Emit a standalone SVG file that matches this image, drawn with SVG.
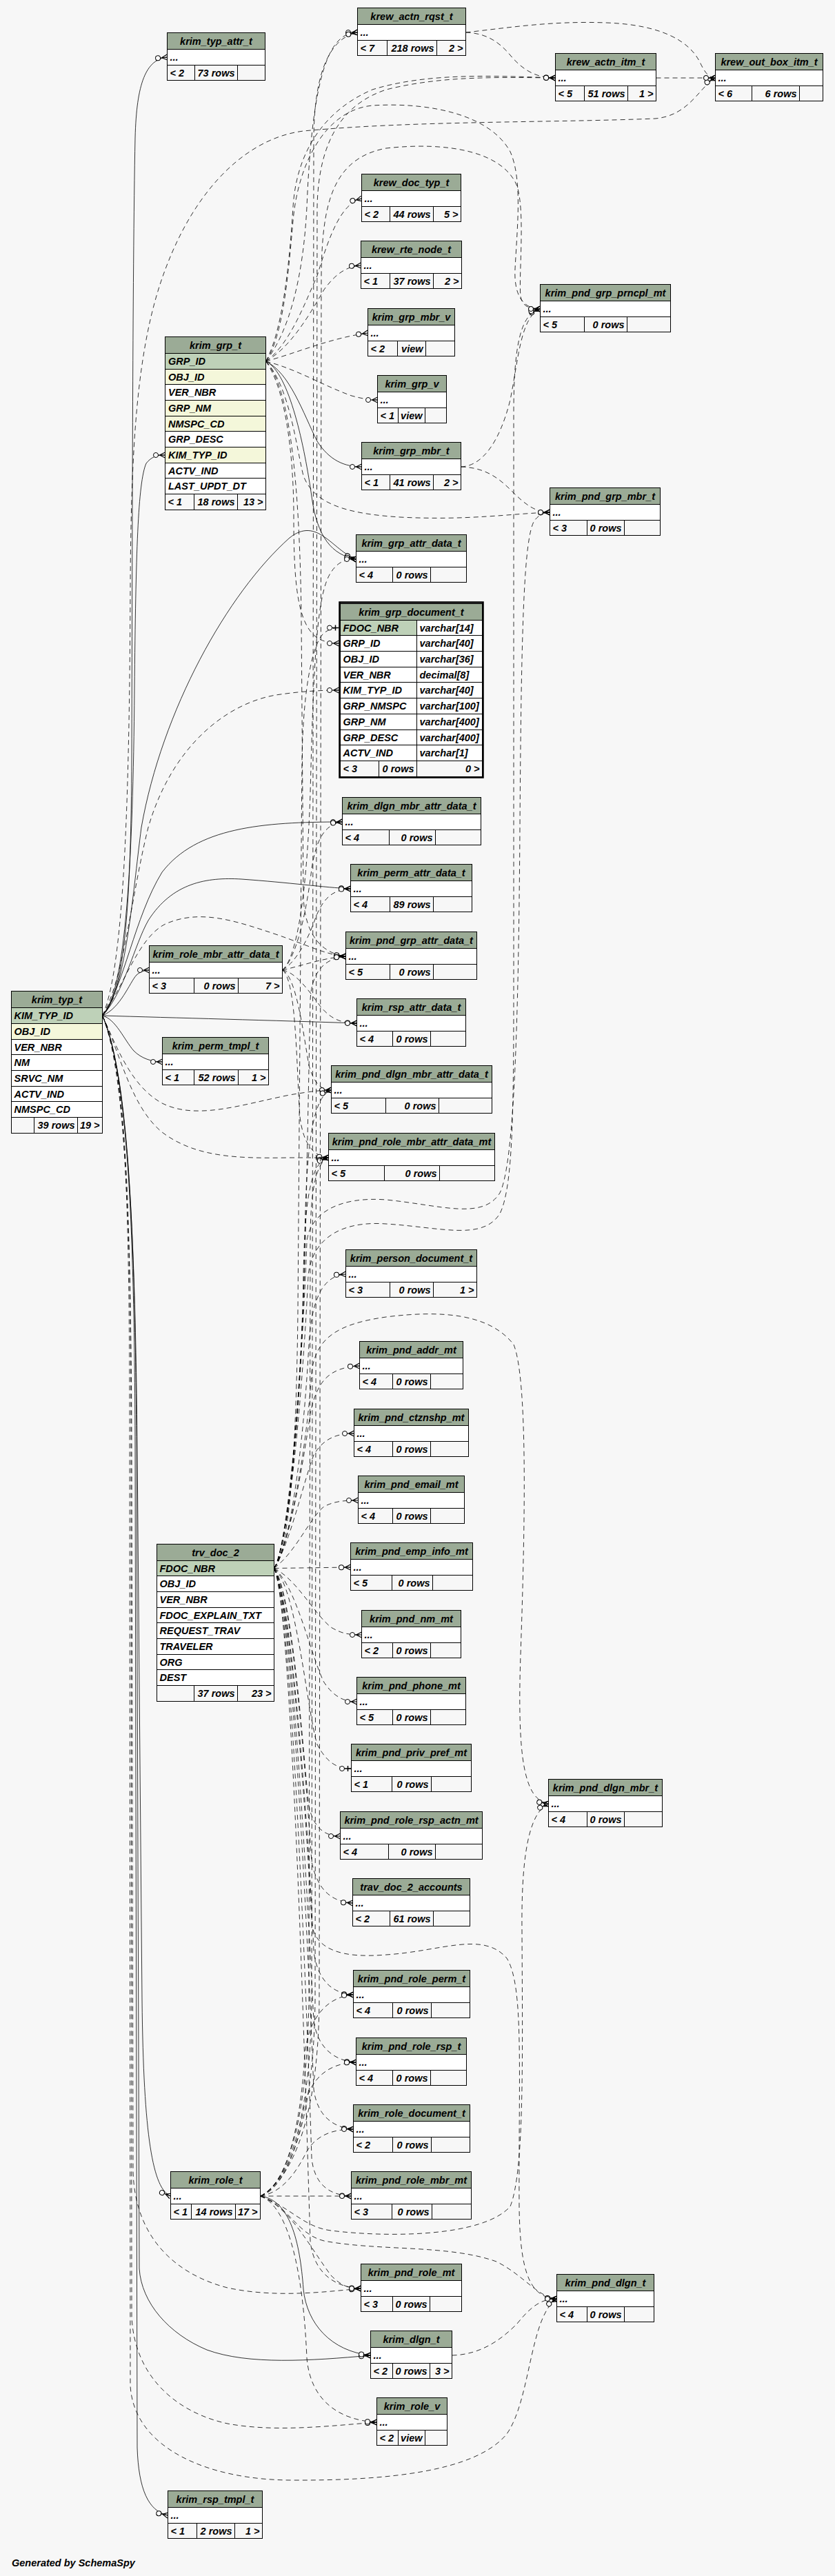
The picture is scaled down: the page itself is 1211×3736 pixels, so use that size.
<svg xmlns="http://www.w3.org/2000/svg" width="1211" height="3736" viewBox="0 0 1211 3736">
<style>
.bg{fill:#f7f7f7;stroke:none}
rect{stroke:#000;stroke-width:1}
.h{fill:#9bab96}
.b{fill:#ffffff}
.f{fill:#f7f7f7}
.pk{fill:#bed1b8}
.ix{fill:#f4f7da}
.fr{fill:none;stroke-width:2.5}
line{stroke:#000;stroke-width:1}
text{font-family:"Liberation Sans",Arial,sans-serif;font-weight:bold;font-style:italic;font-size:14.5px;fill:#000}
.c{text-anchor:middle}
.r{text-anchor:end}
.e{fill:none;stroke:#000;stroke-width:0.8;marker-end:url(#zm)}
.d{stroke-dasharray:7,5}
.o{marker-end:url(#zo)}
</style>
<defs>
<marker id="zm" viewBox="0 0 18 10" markerWidth="18" markerHeight="10" refX="18" refY="5" orient="auto" markerUnits="userSpaceOnUse">
<circle cx="4.5" cy="5" r="3.5" fill="#ffffff" stroke="#000" stroke-width="1"/>
<path d="M8,5 L18,5 M10,5 L18,1 M10,5 L18,9" fill="none" stroke="#000" stroke-width="1.2"/>
</marker>
<marker id="zo" viewBox="0 0 18 10" markerWidth="18" markerHeight="10" refX="18" refY="5" orient="auto" markerUnits="userSpaceOnUse">
<circle cx="4.5" cy="5" r="3.5" fill="#ffffff" stroke="#000" stroke-width="1"/>
<path d="M8,5 L18,5 M13,1 L13,9" fill="none" stroke="#000" stroke-width="1.5"/>
</marker>
</defs>
<rect class="bg" x="0" y="0" width="1211" height="3736"/>

<g id="edges">
<path class="e" d="M148.5,1473 C182,1440 190,1300 191,1100 C192,800 192,400 196,200 C198,120 212,86 242.5,83"/>
<path class="e" d="M148.5,1473 C182,1440 193,1250 195,1000 C197,800 200,700 212,672 C220,662 228,660 239.5,660"/>
<path class="e" d="M148.5,1473 C182,1440 192,1300 205,1200 C235,1030 330,860 420,780 C460,748 482,798 516.5,811"/>
<path class="e d" d="M148.5,1473 C180,1420 190,1300 215,1200 C250,1080 330,1020 400,1008 C440,1002 470,1001 491.5,1001"/>
<path class="e" d="M148.5,1473 C180,1430 195,1330 235,1265 C285,1200 380,1192 496.5,1192"/>
<path class="e" d="M148.5,1473 C180,1440 195,1370 215,1335 C250,1280 300,1272 350,1275 C420,1280 470,1287 508.5,1289"/>
<path class="e d" d="M148.5,1473 C180,1430 200,1360 240,1340 C290,1318 340,1335 400,1355 C450,1372 470,1384 501.5,1387"/>
<path class="e" d="M148.5,1473 C175,1462 188,1425 198,1414 C204,1409 210,1407 216.5,1407"/>
<path class="e" d="M148.5,1473 C250,1476 400,1480 517.5,1484"/>
<path class="e" d="M148.5,1473 C168,1478 180,1508 194,1524 C205,1535 220,1540 235.5,1540"/>
<path class="e d" d="M148.5,1473 C170,1520 190,1575 235,1600 C285,1625 350,1602 420,1588 C450,1583 465,1581 480.5,1581"/>
<path class="e d" d="M148.5,1473 C175,1530 190,1605 235,1642 C285,1680 350,1680 420,1679 C440,1679 460,1679 476.5,1679"/>
<path class="e" d="M148.5,1473 C182,1550 196,1750 199,2100 L206,2900 C208,3100 222,3175 247.5,3185"/>
<path class="e d" d="M148.5,1473 C180,1550 190,1750 191,2100 L193,3150 C196,3250 260,3300 330,3318 C400,3333 470,3324 523.5,3319"/>
<path class="e" d="M148.5,1473 C183,1550 196,1750 198,2100 L202,3290 C205,3340 245,3385 300,3408 C360,3430 450,3424 537.5,3416"/>
<path class="e d" d="M148.5,1473 C183,1550 190,1750 190,2100 L191,3360 C195,3450 260,3500 330,3515 C400,3528 480,3518 546.5,3513"/>
<path class="e d" d="M148.5,1473 C183,1550 188,1750 188,2100 L189,3460 C194,3550 300,3596 420,3597 C560,3598 690,3585 735,3530 C770,3480 768,3360 807.5,3334"/>
<path class="e" d="M148.5,1473 C183,1550 195,1750 196,2100 L199,3550 C201,3610 215,3642 243.5,3648"/>
<path class="e d" d="M148.5,1473 C183,1400 188,1100 189,850 C190,650 198,500 240,390 C285,270 360,200 440,190 C600,175 800,178 950,172 C1000,168 1015,125 1037.5,113"/>

<path class="e d" d="M385.5,524 C420,500 442,440 460,400 C478,340 495,295 524.5,288"/>
<path class="e d" d="M385.5,524 C420,505 447,460 470,420 C488,395 505,386 523.5,385"/>
<path class="e d" d="M385.5,524 C430,512 480,490 533.5,483"/>
<path class="e d" d="M385.5,524 C430,535 470,560 510,574 C525,578 535,580 547.5,580"/>
<path class="e" d="M385.5,524 C420,540 440,600 460,640 C478,668 500,677 524.5,677"/>
<path class="e" d="M385.5,524 C420,540 442,650 452,720 C460,780 482,805 516.5,811"/>
<path class="e d" d="M385.5,524 C412,560 426,650 426,750 C426,850 432,905 460,925 C470,931 480,933 491.5,933"/>
<path class="e d" d="M385.5,524 C410,490 418,400 425,320 C432,240 470,160 540,153 C620,148 710,165 740,220 C758,260 750,330 747,390 C745,430 760,448 783.5,448"/>
<path class="e d" d="M385.5,524 C420,560 430,650 440,690 C455,730 500,745 580,750 C680,755 740,745 797.5,743"/>
<path class="e d" d="M385.5,524 C420,480 440,400 445,300 C450,180 462,90 490,60 C498,51 508,47 518.5,47"/>
<path class="e d" d="M385.5,524 C410,480 420,380 425,300 C430,220 470,160 540,130 C620,105 720,110 805.5,113"/>
<path class="e d" d="M385.5,524 C420,560 435,700 437,900 L440,1300 C442,1360 470,1383 501.5,1387"/>

<path class="e d" d="M668.5,677 C700,676 725,640 740,580 C752,520 755,460 783.5,448"/>
<path class="e d" d="M668.5,677 C700,678 720,690 740,710 C760,730 775,743 797.5,743"/>
<path class="e d" d="M675.5,47 C700,48 720,56 740,80 C760,104 780,113 805.5,113"/>
<path class="e d" d="M675.5,47 C740,40 800,30 880,33 C960,36 1000,60 1015,90 C1022,105 1028,113 1037.5,113"/>
<path class="e d" d="M951.5,113 L1037.5,113"/>

<path class="e d" d="M409.5,1407 C430,1390 445,1300 450,1150 C455,950 460,860 480,830 C490,815 500,811 516.5,811"/>
<path class="e d" d="M409.5,1407 C430,1390 445,1320 452,1260 C458,1220 470,1195 496.5,1192"/>
<path class="e d" d="M409.5,1407 C430,1395 448,1360 458,1330 C470,1300 485,1290 508.5,1289"/>
<path class="e d" d="M409.5,1407 C440,1400 470,1389 501.5,1387"/>
<path class="e d" d="M409.5,1407 C430,1410 450,1440 465,1460 C480,1478 495,1484 517.5,1484"/>
<path class="e d" d="M409.5,1407 C430,1415 440,1500 448,1545 C455,1570 465,1581 480.5,1581"/>
<path class="e d" d="M409.5,1407 C430,1420 430,1550 435,1620 C440,1660 455,1677 476.5,1679"/>

<path class="e d o" d="M397.5,2274.5 C420,2250 430,2100 432,1900 L438,1100 C440,990 455,930 470,918 C478,912 485,910.5 491.5,910.5"/>
<path class="e d" d="M397.5,2274.5 C420,2250 440,2100 448,1950 C452,1880 470,1850 501.5,1848"/>
<path class="e d" d="M397.5,2274.5 C420,2240 440,2120 450,2050 C460,2000 480,1983 521.5,1981"/>
<path class="e d" d="M397.5,2274.5 C420,2240 440,2150 455,2110 C470,2085 490,2079 513.5,2079"/>
<path class="e d" d="M397.5,2274.5 C430,2250 450,2200 470,2185 C485,2177 500,2176 519.5,2176"/>
<path class="e d" d="M397.5,2274.5 L508.5,2273"/>
<path class="e d" d="M397.5,2274.5 C430,2290 455,2340 480,2360 C495,2369 505,2371 524.5,2371"/>
<path class="e d" d="M397.5,2274.5 C430,2300 450,2400 470,2440 C485,2462 500,2468 517.5,2468"/>
<path class="e d o" d="M397.5,2274.5 C430,2300 445,2480 460,2530 C475,2558 490,2565 509.5,2565"/>
<path class="e d" d="M397.5,2274.5 C425,2310 440,2550 448,2620 C455,2650 470,2663 493.5,2663"/>
<path class="e d" d="M397.5,2274.5 C425,2310 445,2600 452,2700 C460,2740 480,2758 511.5,2760"/>
<path class="e d" d="M397.5,2274.5 C425,2320 450,2700 455,2830 C460,2870 480,2891 512.5,2893"/>
<path class="e d" d="M397.5,2274.5 C425,2320 448,2800 455,2930 C460,2970 485,2989 516.5,2991"/>
<path class="e d" d="M397.5,2274.5 C425,2320 450,2900 455,3030 C460,3070 485,3086 512.5,3088"/>
<path class="e d" d="M397.5,2274.5 C425,2330 448,3000 452,3130 C456,3170 480,3184 509.5,3185"/>
<path class="e d" d="M397.5,2274.5 C425,2330 445,3100 450,3250 C455,3300 490,3318 523.5,3319"/>
<path class="e d" d="M397.5,2274.5 C425,2330 448,2700 452,2790 C458,2830 500,2840 560,2835 C640,2830 700,2800 735,2840 C760,2880 752,3000 753,3200 C754,3300 770,3332 807.5,3334"/>
<path class="e d" d="M397.5,2274.5 C420,2240 445,2100 452,1990 C458,1940 490,1920 560,1910 C640,1900 710,1905 745,1950 C765,2000 762,2200 755,2400 C750,2550 760,2610 795.5,2616"/>
<path class="e d" d="M397.5,2274.5 C420,2240 440,2000 447,1850 C452,1800 490,1770 560,1775 C640,1780 700,1800 725,1760 C745,1720 745,1600 745,1400 L745,600 C745,500 755,455 783.5,448"/>
<path class="e d" d="M397.5,2274.5 C420,2240 440,1950 445,1800 C450,1760 490,1735 560,1740 C640,1748 700,1770 725,1730 C745,1690 752,1500 754,1200 C756,900 760,780 775,755 C782,746 790,743 797.5,743"/>
<path class="e d" d="M397.5,2274.5 C420,2240 440,2000 445,1700 L450,1450 C452,1410 470,1390 501.5,1387"/>
<path class="e d" d="M397.5,2274.5 C420,2240 440,2000 442,1800 C444,1650 455,1590 480.5,1581"/>
<path class="e d" d="M397.5,2274.5 C420,2240 438,2000 440,1850 C442,1740 450,1685 476.5,1679"/>

<path class="e d" d="M377.5,3185 L509.5,3185"/>
<path class="e d" d="M377.5,3185 C420,3200 450,3260 480,3300 C495,3315 505,3319 523.5,3319"/>
<path class="e" d="M377.5,3185 C420,3190 435,3250 440,3320 C445,3370 480,3410 537.5,3416"/>
<path class="e d" d="M377.5,3185 C420,3200 440,3300 445,3420 C450,3480 490,3510 546.5,3513"/>
<path class="e d" d="M377.5,3185 C420,3200 430,3240 470,3250 C550,3265 650,3255 720,3280 C760,3300 780,3332 807.5,3334"/>
<path class="e d" d="M377.5,3185 C410,3180 430,3150 445,3120 C460,3095 485,3088 512.5,3088"/>
<path class="e d" d="M377.5,3185 C410,3175 430,3120 440,3060 C450,3010 480,2992 516.5,2991"/>
<path class="e d" d="M377.5,3185 C410,3175 435,3100 442,2980 C448,2920 480,2895 512.5,2893"/>
<path class="e d" d="M377.5,3185 C410,3170 445,3100 448,2900 L450,1800 C450,1720 460,1685 476.5,1679"/>
<path class="e d" d="M377.5,3185 C420,3200 440,3230 480,3235 C560,3245 700,3245 740,3200 C760,3150 758,3000 757,2800 C756,2700 765,2630 795.5,2616"/>
<path class="e d" d="M377.5,3185 C410,3170 450,3100 452,2900 L455,200 C456,100 480,55 518.5,47"/>
<path class="e d" d="M377.5,3185 C410,3170 455,3100 457,2900 L460,300 C462,200 500,150 560,130 C640,110 720,112 805.5,113"/>
<path class="e d" d="M377.5,3185 C410,3170 462,3100 463,2900 L466,400 C467,300 480,230 560,215 C650,205 730,220 750,270 C762,310 752,400 755,430 C758,445 768,448 783.5,448"/>
<path class="e d" d="M655.5,3416 C700,3415 730,3390 750,3370 C770,3345 785,3334 807.5,3334"/>
</g>

<g id="krim_typ_attr_t">
<rect class="h" x="242.5" y="47.5" width="142" height="24"/><rect class="b" x="242.5" y="71.5" width="142" height="23"/><rect class="f" x="242.5" y="94.5" width="142" height="22"/>
<line x1="282.5" y1="94.5" x2="282.5" y2="116.5"/><line x1="344.5" y1="94.5" x2="344.5" y2="116.5"/>
<text class="c" x="313.5" y="64.5">krim_typ_attr_t</text><text x="246.5" y="88">...</text><text x="246.5" y="110.5">&lt; 2</text><text class="r" x="340.5" y="110.5">73 rows</text>
</g>
<g id="krew_actn_rqst_t">
<rect class="h" x="518.5" y="11.5" width="157" height="24"/><rect class="b" x="518.5" y="35.5" width="157" height="23"/><rect class="f" x="518.5" y="58.5" width="157" height="22"/>
<line x1="561.5" y1="58.5" x2="561.5" y2="80.5"/><line x1="633.5" y1="58.5" x2="633.5" y2="80.5"/>
<text class="c" x="597" y="28.5">krew_actn_rqst_t</text><text x="522.5" y="52">...</text><text x="522.5" y="74.5">&lt; 7</text><text class="r" x="629.5" y="74.5">218 rows</text><text class="r" x="671.5" y="74.5">2 &gt;</text>
</g>
<g id="krew_actn_itm_t">
<rect class="h" x="805.5" y="77.5" width="146" height="24"/><rect class="b" x="805.5" y="101.5" width="146" height="23"/><rect class="f" x="805.5" y="124.5" width="146" height="22"/>
<line x1="847.5" y1="124.5" x2="847.5" y2="146.5"/><line x1="910.5" y1="124.5" x2="910.5" y2="146.5"/>
<text class="c" x="878.5" y="94.5">krew_actn_itm_t</text><text x="809.5" y="118">...</text><text x="809.5" y="140.5">&lt; 5</text><text class="r" x="906.5" y="140.5">51 rows</text><text class="r" x="947.5" y="140.5">1 &gt;</text>
</g>
<g id="krew_out_box_itm_t">
<rect class="h" x="1037.5" y="77.5" width="156" height="24"/><rect class="b" x="1037.5" y="101.5" width="156" height="23"/><rect class="f" x="1037.5" y="124.5" width="156" height="22"/>
<line x1="1090.5" y1="124.5" x2="1090.5" y2="146.5"/><line x1="1159.5" y1="124.5" x2="1159.5" y2="146.5"/>
<text class="c" x="1115.5" y="94.5">krew_out_box_itm_t</text><text x="1041.5" y="118">...</text><text x="1041.5" y="140.5">&lt; 6</text><text class="r" x="1155.5" y="140.5">6 rows</text>
</g>
<g id="krew_doc_typ_t">
<rect class="h" x="524.5" y="252.5" width="144" height="24"/><rect class="b" x="524.5" y="276.5" width="144" height="23"/><rect class="f" x="524.5" y="299.5" width="144" height="22"/>
<line x1="565.5" y1="299.5" x2="565.5" y2="321.5"/><line x1="628.5" y1="299.5" x2="628.5" y2="321.5"/>
<text class="c" x="596.5" y="269.5">krew_doc_typ_t</text><text x="528.5" y="293">...</text><text x="528.5" y="315.5">&lt; 2</text><text class="r" x="624.5" y="315.5">44 rows</text><text class="r" x="664.5" y="315.5">5 &gt;</text>
</g>
<g id="krew_rte_node_t">
<rect class="h" x="523.5" y="349.5" width="146" height="24"/><rect class="b" x="523.5" y="373.5" width="146" height="23"/><rect class="f" x="523.5" y="396.5" width="146" height="22"/>
<line x1="565.5" y1="396.5" x2="565.5" y2="418.5"/><line x1="628.5" y1="396.5" x2="628.5" y2="418.5"/>
<text class="c" x="596.5" y="366.5">krew_rte_node_t</text><text x="527.5" y="390">...</text><text x="527.5" y="412.5">&lt; 1</text><text class="r" x="624.5" y="412.5">37 rows</text><text class="r" x="665.5" y="412.5">2 &gt;</text>
</g>
<g id="krim_grp_mbr_v">
<rect class="h" x="533.5" y="447.5" width="126" height="24"/><rect class="b" x="533.5" y="471.5" width="126" height="23"/><rect class="f" x="533.5" y="494.5" width="126" height="22"/>
<line x1="576.5" y1="494.5" x2="576.5" y2="516.5"/><line x1="617.5" y1="494.5" x2="617.5" y2="516.5"/>
<text class="c" x="596.5" y="464.5">krim_grp_mbr_v</text><text x="537.5" y="488">...</text><text x="537.5" y="510.5">&lt; 2</text><text class="r" x="613.5" y="510.5">view</text>
</g>
<g id="krim_grp_v">
<rect class="h" x="547.5" y="544.5" width="100" height="24"/><rect class="b" x="547.5" y="568.5" width="100" height="23"/><rect class="f" x="547.5" y="591.5" width="100" height="22"/>
<line x1="577.5" y1="591.5" x2="577.5" y2="613.5"/><line x1="616.5" y1="591.5" x2="616.5" y2="613.5"/>
<text class="c" x="597.5" y="561.5">krim_grp_v</text><text x="551.5" y="585">...</text><text x="551.5" y="607.5">&lt; 1</text><text class="r" x="612.5" y="607.5">view</text>
</g>
<g id="krim_grp_mbr_t">
<rect class="h" x="524.5" y="641.5" width="144" height="24"/><rect class="b" x="524.5" y="665.5" width="144" height="23"/><rect class="f" x="524.5" y="688.5" width="144" height="22"/>
<line x1="565.5" y1="688.5" x2="565.5" y2="710.5"/><line x1="628.5" y1="688.5" x2="628.5" y2="710.5"/>
<text class="c" x="596.5" y="658.5">krim_grp_mbr_t</text><text x="528.5" y="682">...</text><text x="528.5" y="704.5">&lt; 1</text><text class="r" x="624.5" y="704.5">41 rows</text><text class="r" x="664.5" y="704.5">2 &gt;</text>
</g>
<g id="krim_pnd_grp_prncpl_mt">
<rect class="h" x="783.5" y="412.5" width="189" height="24"/><rect class="b" x="783.5" y="436.5" width="189" height="23"/><rect class="f" x="783.5" y="459.5" width="189" height="22"/>
<line x1="847.5" y1="459.5" x2="847.5" y2="481.5"/><line x1="909.5" y1="459.5" x2="909.5" y2="481.5"/>
<text class="c" x="878" y="429.5">krim_pnd_grp_prncpl_mt</text><text x="787.5" y="453">...</text><text x="787.5" y="475.5">&lt; 5</text><text class="r" x="905.5" y="475.5">0 rows</text>
</g>
<g id="krim_pnd_grp_mbr_t">
<rect class="h" x="797.5" y="707.5" width="160" height="24"/><rect class="b" x="797.5" y="731.5" width="160" height="23"/><rect class="f" x="797.5" y="754.5" width="160" height="22"/>
<line x1="851.5" y1="754.5" x2="851.5" y2="776.5"/><line x1="905.5" y1="754.5" x2="905.5" y2="776.5"/>
<text class="c" x="877.5" y="724.5">krim_pnd_grp_mbr_t</text><text x="801.5" y="748">...</text><text x="801.5" y="770.5">&lt; 3</text><text class="r" x="901.5" y="770.5">0 rows</text>
</g>
<g id="krim_grp_attr_data_t">
<rect class="h" x="516.5" y="775.5" width="160" height="24"/><rect class="b" x="516.5" y="799.5" width="160" height="23"/><rect class="f" x="516.5" y="822.5" width="160" height="22"/>
<line x1="569.5" y1="822.5" x2="569.5" y2="844.5"/><line x1="624.5" y1="822.5" x2="624.5" y2="844.5"/>
<text class="c" x="596.5" y="792.5">krim_grp_attr_data_t</text><text x="520.5" y="816">...</text><text x="520.5" y="838.5">&lt; 4</text><text class="r" x="620.5" y="838.5">0 rows</text>
</g>
<g id="krim_dlgn_mbr_attr_data_t">
<rect class="h" x="496.5" y="1156.5" width="201" height="24"/><rect class="b" x="496.5" y="1180.5" width="201" height="23"/><rect class="f" x="496.5" y="1203.5" width="201" height="22"/>
<line x1="564.5" y1="1203.5" x2="564.5" y2="1225.5"/><line x1="631.5" y1="1203.5" x2="631.5" y2="1225.5"/>
<text class="c" x="597" y="1173.5">krim_dlgn_mbr_attr_data_t</text><text x="500.5" y="1197">...</text><text x="500.5" y="1219.5">&lt; 4</text><text class="r" x="627.5" y="1219.5">0 rows</text>
</g>
<g id="krim_perm_attr_data_t">
<rect class="h" x="508.5" y="1253.5" width="176" height="24"/><rect class="b" x="508.5" y="1277.5" width="176" height="23"/><rect class="f" x="508.5" y="1300.5" width="176" height="22"/>
<line x1="565.5" y1="1300.5" x2="565.5" y2="1322.5"/><line x1="628.5" y1="1300.5" x2="628.5" y2="1322.5"/>
<text class="c" x="596.5" y="1270.5">krim_perm_attr_data_t</text><text x="512.5" y="1294">...</text><text x="512.5" y="1316.5">&lt; 4</text><text class="r" x="624.5" y="1316.5">89 rows</text>
</g>
<g id="krim_pnd_grp_attr_data_t">
<rect class="h" x="501.5" y="1351.5" width="190" height="24"/><rect class="b" x="501.5" y="1375.5" width="190" height="23"/><rect class="f" x="501.5" y="1398.5" width="190" height="22"/>
<line x1="565.5" y1="1398.5" x2="565.5" y2="1420.5"/><line x1="628.5" y1="1398.5" x2="628.5" y2="1420.5"/>
<text class="c" x="596.5" y="1368.5">krim_pnd_grp_attr_data_t</text><text x="505.5" y="1392">...</text><text x="505.5" y="1414.5">&lt; 5</text><text class="r" x="624.5" y="1414.5">0 rows</text>
</g>
<g id="krim_role_mbr_attr_data_t">
<rect class="h" x="216.5" y="1371.5" width="193" height="24"/><rect class="b" x="216.5" y="1395.5" width="193" height="23"/><rect class="f" x="216.5" y="1418.5" width="193" height="22"/>
<line x1="281.5" y1="1418.5" x2="281.5" y2="1440.5"/><line x1="345.5" y1="1418.5" x2="345.5" y2="1440.5"/>
<text class="c" x="313" y="1388.5">krim_role_mbr_attr_data_t</text><text x="220.5" y="1412">...</text><text x="220.5" y="1434.5">&lt; 3</text><text class="r" x="341.5" y="1434.5">0 rows</text><text class="r" x="405.5" y="1434.5">7 &gt;</text>
</g>
<g id="krim_rsp_attr_data_t">
<rect class="h" x="517.5" y="1448.5" width="158" height="24"/><rect class="b" x="517.5" y="1472.5" width="158" height="23"/><rect class="f" x="517.5" y="1495.5" width="158" height="22"/>
<line x1="569.5" y1="1495.5" x2="569.5" y2="1517.5"/><line x1="624.5" y1="1495.5" x2="624.5" y2="1517.5"/>
<text class="c" x="596.5" y="1465.5">krim_rsp_attr_data_t</text><text x="521.5" y="1489">...</text><text x="521.5" y="1511.5">&lt; 4</text><text class="r" x="620.5" y="1511.5">0 rows</text>
</g>
<g id="krim_perm_tmpl_t">
<rect class="h" x="235.5" y="1504.5" width="154" height="24"/><rect class="b" x="235.5" y="1528.5" width="154" height="23"/><rect class="f" x="235.5" y="1551.5" width="154" height="22"/>
<line x1="281.5" y1="1551.5" x2="281.5" y2="1573.5"/><line x1="345.5" y1="1551.5" x2="345.5" y2="1573.5"/>
<text class="c" x="312.5" y="1521.5">krim_perm_tmpl_t</text><text x="239.5" y="1545">...</text><text x="239.5" y="1567.5">&lt; 1</text><text class="r" x="341.5" y="1567.5">52 rows</text><text class="r" x="385.5" y="1567.5">1 &gt;</text>
</g>
<g id="krim_pnd_dlgn_mbr_attr_data_t">
<rect class="h" x="480.5" y="1545.5" width="233" height="24"/><rect class="b" x="480.5" y="1569.5" width="233" height="23"/><rect class="f" x="480.5" y="1592.5" width="233" height="22"/>
<line x1="559.5" y1="1592.5" x2="559.5" y2="1614.5"/><line x1="636.5" y1="1592.5" x2="636.5" y2="1614.5"/>
<text class="c" x="597" y="1562.5">krim_pnd_dlgn_mbr_attr_data_t</text><text x="484.5" y="1586">...</text><text x="484.5" y="1608.5">&lt; 5</text><text class="r" x="632.5" y="1608.5">0 rows</text>
</g>
<g id="krim_pnd_role_mbr_attr_data_mt">
<rect class="h" x="476.5" y="1643.5" width="241" height="24"/><rect class="b" x="476.5" y="1667.5" width="241" height="23"/><rect class="f" x="476.5" y="1690.5" width="241" height="22"/>
<line x1="557.5" y1="1690.5" x2="557.5" y2="1712.5"/><line x1="637.5" y1="1690.5" x2="637.5" y2="1712.5"/>
<text class="c" x="597" y="1660.5">krim_pnd_role_mbr_attr_data_mt</text><text x="480.5" y="1684">...</text><text x="480.5" y="1706.5">&lt; 5</text><text class="r" x="633.5" y="1706.5">0 rows</text>
</g>
<g id="krim_person_document_t">
<rect class="h" x="501.5" y="1812.5" width="190" height="24"/><rect class="b" x="501.5" y="1836.5" width="190" height="23"/><rect class="f" x="501.5" y="1859.5" width="190" height="22"/>
<line x1="565.5" y1="1859.5" x2="565.5" y2="1881.5"/><line x1="628.5" y1="1859.5" x2="628.5" y2="1881.5"/>
<text class="c" x="596.5" y="1829.5">krim_person_document_t</text><text x="505.5" y="1853">...</text><text x="505.5" y="1875.5">&lt; 3</text><text class="r" x="624.5" y="1875.5">0 rows</text><text class="r" x="687.5" y="1875.5">1 &gt;</text>
</g>
<g id="krim_pnd_addr_mt">
<rect class="h" x="521.5" y="1945.5" width="150" height="24"/><rect class="b" x="521.5" y="1969.5" width="150" height="23"/><rect class="f" x="521.5" y="1992.5" width="150" height="22"/>
<line x1="569.5" y1="1992.5" x2="569.5" y2="2014.5"/><line x1="624.5" y1="1992.5" x2="624.5" y2="2014.5"/>
<text class="c" x="596.5" y="1962.5">krim_pnd_addr_mt</text><text x="525.5" y="1986">...</text><text x="525.5" y="2008.5">&lt; 4</text><text class="r" x="620.5" y="2008.5">0 rows</text>
</g>
<g id="krim_pnd_ctznshp_mt">
<rect class="h" x="513.5" y="2043.5" width="166" height="24"/><rect class="b" x="513.5" y="2067.5" width="166" height="23"/><rect class="f" x="513.5" y="2090.5" width="166" height="22"/>
<line x1="569.5" y1="2090.5" x2="569.5" y2="2112.5"/><line x1="624.5" y1="2090.5" x2="624.5" y2="2112.5"/>
<text class="c" x="596.5" y="2060.5">krim_pnd_ctznshp_mt</text><text x="517.5" y="2084">...</text><text x="517.5" y="2106.5">&lt; 4</text><text class="r" x="620.5" y="2106.5">0 rows</text>
</g>
<g id="krim_pnd_email_mt">
<rect class="h" x="519.5" y="2140.5" width="154" height="24"/><rect class="b" x="519.5" y="2164.5" width="154" height="23"/><rect class="f" x="519.5" y="2187.5" width="154" height="22"/>
<line x1="569.5" y1="2187.5" x2="569.5" y2="2209.5"/><line x1="624.5" y1="2187.5" x2="624.5" y2="2209.5"/>
<text class="c" x="596.5" y="2157.5">krim_pnd_email_mt</text><text x="523.5" y="2181">...</text><text x="523.5" y="2203.5">&lt; 4</text><text class="r" x="620.5" y="2203.5">0 rows</text>
</g>
<g id="krim_pnd_emp_info_mt">
<rect class="h" x="508.5" y="2237.5" width="177" height="24"/><rect class="b" x="508.5" y="2261.5" width="177" height="23"/><rect class="f" x="508.5" y="2284.5" width="177" height="22"/>
<line x1="568.5" y1="2284.5" x2="568.5" y2="2306.5"/><line x1="627.5" y1="2284.5" x2="627.5" y2="2306.5"/>
<text class="c" x="597" y="2254.5">krim_pnd_emp_info_mt</text><text x="512.5" y="2278">...</text><text x="512.5" y="2300.5">&lt; 5</text><text class="r" x="623.5" y="2300.5">0 rows</text>
</g>
<g id="krim_pnd_nm_mt">
<rect class="h" x="524.5" y="2335.5" width="144" height="24"/><rect class="b" x="524.5" y="2359.5" width="144" height="23"/><rect class="f" x="524.5" y="2382.5" width="144" height="22"/>
<line x1="569.5" y1="2382.5" x2="569.5" y2="2404.5"/><line x1="624.5" y1="2382.5" x2="624.5" y2="2404.5"/>
<text class="c" x="596.5" y="2352.5">krim_pnd_nm_mt</text><text x="528.5" y="2376">...</text><text x="528.5" y="2398.5">&lt; 2</text><text class="r" x="620.5" y="2398.5">0 rows</text>
</g>
<g id="krim_pnd_phone_mt">
<rect class="h" x="517.5" y="2432.5" width="158" height="24"/><rect class="b" x="517.5" y="2456.5" width="158" height="23"/><rect class="f" x="517.5" y="2479.5" width="158" height="22"/>
<line x1="569.5" y1="2479.5" x2="569.5" y2="2501.5"/><line x1="624.5" y1="2479.5" x2="624.5" y2="2501.5"/>
<text class="c" x="596.5" y="2449.5">krim_pnd_phone_mt</text><text x="521.5" y="2473">...</text><text x="521.5" y="2495.5">&lt; 5</text><text class="r" x="620.5" y="2495.5">0 rows</text>
</g>
<g id="krim_pnd_priv_pref_mt">
<rect class="h" x="509.5" y="2529.5" width="174" height="24"/><rect class="b" x="509.5" y="2553.5" width="174" height="23"/><rect class="f" x="509.5" y="2576.5" width="174" height="22"/>
<line x1="568.5" y1="2576.5" x2="568.5" y2="2598.5"/><line x1="625.5" y1="2576.5" x2="625.5" y2="2598.5"/>
<text class="c" x="596.5" y="2546.5">krim_pnd_priv_pref_mt</text><text x="513.5" y="2570">...</text><text x="513.5" y="2592.5">&lt; 1</text><text class="r" x="621.5" y="2592.5">0 rows</text>
</g>
<g id="krim_pnd_role_rsp_actn_mt">
<rect class="h" x="493.5" y="2627.5" width="206" height="24"/><rect class="b" x="493.5" y="2651.5" width="206" height="23"/><rect class="f" x="493.5" y="2674.5" width="206" height="22"/>
<line x1="563.5" y1="2674.5" x2="563.5" y2="2696.5"/><line x1="631.5" y1="2674.5" x2="631.5" y2="2696.5"/>
<text class="c" x="596.5" y="2644.5">krim_pnd_role_rsp_actn_mt</text><text x="497.5" y="2668">...</text><text x="497.5" y="2690.5">&lt; 4</text><text class="r" x="627.5" y="2690.5">0 rows</text>
</g>
<g id="trav_doc_2_accounts">
<rect class="h" x="511.5" y="2724.5" width="170" height="24"/><rect class="b" x="511.5" y="2748.5" width="170" height="23"/><rect class="f" x="511.5" y="2771.5" width="170" height="22"/>
<line x1="565.5" y1="2771.5" x2="565.5" y2="2793.5"/><line x1="628.5" y1="2771.5" x2="628.5" y2="2793.5"/>
<text class="c" x="596.5" y="2741.5">trav_doc_2_accounts</text><text x="515.5" y="2765">...</text><text x="515.5" y="2787.5">&lt; 2</text><text class="r" x="624.5" y="2787.5">61 rows</text>
</g>
<g id="krim_pnd_role_perm_t">
<rect class="h" x="512.5" y="2857.5" width="169" height="24"/><rect class="b" x="512.5" y="2881.5" width="169" height="23"/><rect class="f" x="512.5" y="2904.5" width="169" height="22"/>
<line x1="569.5" y1="2904.5" x2="569.5" y2="2926.5"/><line x1="625.5" y1="2904.5" x2="625.5" y2="2926.5"/>
<text class="c" x="597" y="2874.5">krim_pnd_role_perm_t</text><text x="516.5" y="2898">...</text><text x="516.5" y="2920.5">&lt; 4</text><text class="r" x="621.5" y="2920.5">0 rows</text>
</g>
<g id="krim_pnd_role_rsp_t">
<rect class="h" x="516.5" y="2955.5" width="160" height="24"/><rect class="b" x="516.5" y="2979.5" width="160" height="23"/><rect class="f" x="516.5" y="3002.5" width="160" height="22"/>
<line x1="569.5" y1="3002.5" x2="569.5" y2="3024.5"/><line x1="624.5" y1="3002.5" x2="624.5" y2="3024.5"/>
<text class="c" x="596.5" y="2972.5">krim_pnd_role_rsp_t</text><text x="520.5" y="2996">...</text><text x="520.5" y="3018.5">&lt; 4</text><text class="r" x="620.5" y="3018.5">0 rows</text>
</g>
<g id="krim_role_document_t">
<rect class="h" x="512.5" y="3052.5" width="169" height="24"/><rect class="b" x="512.5" y="3076.5" width="169" height="23"/><rect class="f" x="512.5" y="3099.5" width="169" height="22"/>
<line x1="569.5" y1="3099.5" x2="569.5" y2="3121.5"/><line x1="625.5" y1="3099.5" x2="625.5" y2="3121.5"/>
<text class="c" x="597" y="3069.5">krim_role_document_t</text><text x="516.5" y="3093">...</text><text x="516.5" y="3115.5">&lt; 2</text><text class="r" x="621.5" y="3115.5">0 rows</text>
</g>
<g id="krim_pnd_role_mbr_mt">
<rect class="h" x="509.5" y="3149.5" width="174" height="24"/><rect class="b" x="509.5" y="3173.5" width="174" height="23"/><rect class="f" x="509.5" y="3196.5" width="174" height="22"/>
<line x1="568.5" y1="3196.5" x2="568.5" y2="3218.5"/><line x1="626.5" y1="3196.5" x2="626.5" y2="3218.5"/>
<text class="c" x="596.5" y="3166.5">krim_pnd_role_mbr_mt</text><text x="513.5" y="3190">...</text><text x="513.5" y="3212.5">&lt; 3</text><text class="r" x="622.5" y="3212.5">0 rows</text>
</g>
<g id="krim_role_t">
<rect class="h" x="247.5" y="3149.5" width="130" height="24"/><rect class="b" x="247.5" y="3173.5" width="130" height="23"/><rect class="f" x="247.5" y="3196.5" width="130" height="22"/>
<line x1="277.5" y1="3196.5" x2="277.5" y2="3218.5"/><line x1="341.5" y1="3196.5" x2="341.5" y2="3218.5"/>
<text class="c" x="312.5" y="3166.5">krim_role_t</text><text x="251.5" y="3190">...</text><text x="251.5" y="3212.5">&lt; 1</text><text class="r" x="337.5" y="3212.5">14 rows</text><text class="r" x="373.5" y="3212.5">17 &gt;</text>
</g>
<g id="krim_pnd_role_mt">
<rect class="h" x="523.5" y="3283.5" width="146" height="24"/><rect class="b" x="523.5" y="3307.5" width="146" height="23"/><rect class="f" x="523.5" y="3330.5" width="146" height="22"/>
<line x1="569.5" y1="3330.5" x2="569.5" y2="3352.5"/><line x1="623.5" y1="3330.5" x2="623.5" y2="3352.5"/>
<text class="c" x="596.5" y="3300.5">krim_pnd_role_mt</text><text x="527.5" y="3324">...</text><text x="527.5" y="3346.5">&lt; 3</text><text class="r" x="619.5" y="3346.5">0 rows</text>
</g>
<g id="krim_dlgn_t">
<rect class="h" x="537.5" y="3380.5" width="118" height="24"/><rect class="b" x="537.5" y="3404.5" width="118" height="23"/><rect class="f" x="537.5" y="3427.5" width="118" height="22"/>
<line x1="569.5" y1="3427.5" x2="569.5" y2="3449.5"/><line x1="623.5" y1="3427.5" x2="623.5" y2="3449.5"/>
<text class="c" x="596.5" y="3397.5">krim_dlgn_t</text><text x="541.5" y="3421">...</text><text x="541.5" y="3443.5">&lt; 2</text><text class="r" x="619.5" y="3443.5">0 rows</text><text class="r" x="651.5" y="3443.5">3 &gt;</text>
</g>
<g id="krim_role_v">
<rect class="h" x="546.5" y="3477.5" width="102" height="24"/><rect class="b" x="546.5" y="3501.5" width="102" height="23"/><rect class="f" x="546.5" y="3524.5" width="102" height="22"/>
<line x1="577.5" y1="3524.5" x2="577.5" y2="3546.5"/><line x1="616.5" y1="3524.5" x2="616.5" y2="3546.5"/>
<text class="c" x="597.5" y="3494.5">krim_role_v</text><text x="550.5" y="3518">...</text><text x="550.5" y="3540.5">&lt; 2</text><text class="r" x="612.5" y="3540.5">view</text>
</g>
<g id="krim_pnd_dlgn_t">
<rect class="h" x="807.5" y="3298.5" width="141" height="24"/><rect class="b" x="807.5" y="3322.5" width="141" height="23"/><rect class="f" x="807.5" y="3345.5" width="141" height="22"/>
<line x1="851.5" y1="3345.5" x2="851.5" y2="3367.5"/><line x1="905.5" y1="3345.5" x2="905.5" y2="3367.5"/>
<text class="c" x="878" y="3315.5">krim_pnd_dlgn_t</text><text x="811.5" y="3339">...</text><text x="811.5" y="3361.5">&lt; 4</text><text class="r" x="901.5" y="3361.5">0 rows</text>
</g>
<g id="krim_rsp_tmpl_t">
<rect class="h" x="243.5" y="3612.5" width="137" height="24"/><rect class="b" x="243.5" y="3636.5" width="137" height="23"/><rect class="f" x="243.5" y="3659.5" width="137" height="22"/>
<line x1="285.5" y1="3659.5" x2="285.5" y2="3681.5"/><line x1="340.5" y1="3659.5" x2="340.5" y2="3681.5"/>
<text class="c" x="312" y="3629.5">krim_rsp_tmpl_t</text><text x="247.5" y="3653">...</text><text x="247.5" y="3675.5">&lt; 1</text><text class="r" x="336.5" y="3675.5">2 rows</text><text class="r" x="376.5" y="3675.5">1 &gt;</text>
</g>
<g id="krim_pnd_dlgn_mbr_t">
<rect class="h" x="795.5" y="2580.5" width="165" height="24"/><rect class="b" x="795.5" y="2604.5" width="165" height="23"/><rect class="f" x="795.5" y="2627.5" width="165" height="22"/>
<line x1="851.5" y1="2627.5" x2="851.5" y2="2649.5"/><line x1="905.5" y1="2627.5" x2="905.5" y2="2649.5"/>
<text class="c" x="878" y="2597.5">krim_pnd_dlgn_mbr_t</text><text x="799.5" y="2621">...</text><text x="799.5" y="2643.5">&lt; 4</text><text class="r" x="901.5" y="2643.5">0 rows</text>
</g>

<g id="krim_grp_t">
<rect class="h" x="239.5" y="488.5" width="146" height="24"/>
<rect class="pk" x="239.5" y="512.5" width="146" height="23"/>
<rect class="ix" x="239.5" y="535.5" width="146" height="22"/>
<rect class="b" x="239.5" y="557.5" width="146" height="23"/>
<rect class="ix" x="239.5" y="580.5" width="146" height="23"/>
<rect class="ix" x="239.5" y="603.5" width="146" height="22"/>
<rect class="b" x="239.5" y="625.5" width="146" height="23"/>
<rect class="ix" x="239.5" y="648.5" width="146" height="23"/>
<rect class="b" x="239.5" y="671.5" width="146" height="22"/>
<rect class="b" x="239.5" y="693.5" width="146" height="23"/>
<rect class="f" x="239.5" y="716.5" width="146" height="23"/>
<line x1="281.5" y1="716.5" x2="281.5" y2="739.5"/><line x1="344.5" y1="716.5" x2="344.5" y2="739.5"/>
<text class="c" x="312.5" y="505.5">krim_grp_t</text>
<text x="244" y="529">GRP_ID</text><text x="244" y="552">OBJ_ID</text><text x="244" y="574">VER_NBR</text><text x="244" y="597">GRP_NM</text><text x="244" y="620">NMSPC_CD</text><text x="244" y="642">GRP_DESC</text><text x="244" y="665">KIM_TYP_ID</text><text x="244" y="688">ACTV_IND</text><text x="244" y="710">LAST_UPDT_DT</text>
<text x="243.5" y="733">&lt; 1</text><text class="r" x="340.5" y="733">18 rows</text><text class="r" x="381.5" y="733">13 &gt;</text>
</g>
<g id="krim_typ_t">
<rect class="h" x="16.5" y="1437.5" width="132" height="24"/>
<rect class="pk" x="16.5" y="1461.5" width="132" height="23"/>
<rect class="ix" x="16.5" y="1484.5" width="132" height="23"/>
<rect class="b" x="16.5" y="1507.5" width="132" height="22"/>
<rect class="b" x="16.5" y="1529.5" width="132" height="23"/>
<rect class="b" x="16.5" y="1552.5" width="132" height="23"/>
<rect class="b" x="16.5" y="1575.5" width="132" height="22"/>
<rect class="b" x="16.5" y="1597.5" width="132" height="23"/>
<rect class="f" x="16.5" y="1620.5" width="132" height="23"/>
<line x1="49.5" y1="1620.5" x2="49.5" y2="1643.5"/><line x1="112.5" y1="1620.5" x2="112.5" y2="1643.5"/>
<text class="c" x="82.5" y="1454.5">krim_typ_t</text>
<text x="20.5" y="1478">KIM_TYP_ID</text><text x="20.5" y="1501">OBJ_ID</text><text x="20.5" y="1524">VER_NBR</text><text x="20.5" y="1546">NM</text><text x="20.5" y="1569">SRVC_NM</text><text x="20.5" y="1592">ACTV_IND</text><text x="20.5" y="1614">NMSPC_CD</text>
<text class="r" x="108.5" y="1637">39 rows</text><text class="r" x="144.5" y="1637">19 &gt;</text>
</g>
<g id="trv_doc_2">
<rect class="h" x="227.5" y="2239.5" width="170" height="24"/>
<rect class="pk" x="227.5" y="2263.5" width="170" height="22"/>
<rect class="b" x="227.5" y="2285.5" width="170" height="23"/>
<rect class="b" x="227.5" y="2308.5" width="170" height="23"/>
<rect class="b" x="227.5" y="2331.5" width="170" height="22"/>
<rect class="b" x="227.5" y="2353.5" width="170" height="23"/>
<rect class="b" x="227.5" y="2376.5" width="170" height="23"/>
<rect class="b" x="227.5" y="2399.5" width="170" height="22"/>
<rect class="b" x="227.5" y="2421.5" width="170" height="23"/>
<rect class="f" x="227.5" y="2444.5" width="170" height="23"/>
<line x1="281.5" y1="2444.5" x2="281.5" y2="2467.5"/><line x1="344.5" y1="2444.5" x2="344.5" y2="2467.5"/>
<text class="c" x="312.5" y="2256.5">trv_doc_2</text>
<text x="231.5" y="2280">FDOC_NBR</text><text x="231.5" y="2302">OBJ_ID</text><text x="231.5" y="2325">VER_NBR</text><text x="231.5" y="2348">FDOC_EXPLAIN_TXT</text><text x="231.5" y="2370">REQUEST_TRAV</text><text x="231.5" y="2393">TRAVELER</text><text x="231.5" y="2416">ORG</text><text x="231.5" y="2438">DEST</text>
<text class="r" x="340.5" y="2461">37 rows</text><text class="r" x="393.5" y="2461">23 &gt;</text>
</g>
<g id="krim_grp_document_t">
<rect class="fr" x="492.5" y="873.5" width="208" height="254"/>
<rect class="h" x="493.5" y="875.5" width="206" height="24"/>
<rect class="pk" x="493.5" y="899.5" width="111" height="22"/><rect class="b" x="604.5" y="899.5" width="95" height="22"/>
<rect class="b" x="493.5" y="921.5" width="111" height="23"/><rect class="b" x="604.5" y="921.5" width="95" height="23"/>
<rect class="b" x="493.5" y="944.5" width="111" height="23"/><rect class="b" x="604.5" y="944.5" width="95" height="23"/>
<rect class="b" x="493.5" y="967.5" width="111" height="22"/><rect class="b" x="604.5" y="967.5" width="95" height="22"/>
<rect class="b" x="493.5" y="989.5" width="111" height="23"/><rect class="b" x="604.5" y="989.5" width="95" height="23"/>
<rect class="b" x="493.5" y="1012.5" width="111" height="23"/><rect class="b" x="604.5" y="1012.5" width="95" height="23"/>
<rect class="b" x="493.5" y="1035.5" width="111" height="23"/><rect class="b" x="604.5" y="1035.5" width="95" height="23"/>
<rect class="b" x="493.5" y="1058.5" width="111" height="22"/><rect class="b" x="604.5" y="1058.5" width="95" height="22"/>
<rect class="b" x="493.5" y="1080.5" width="111" height="23"/><rect class="b" x="604.5" y="1080.5" width="95" height="23"/>
<rect class="f" x="493.5" y="1103.5" width="206" height="23"/>
<line x1="549.5" y1="1103.5" x2="549.5" y2="1126.5"/><line x1="604.5" y1="1103.5" x2="604.5" y2="1126.5"/>
<text class="c" x="596.5" y="892.5">krim_grp_document_t</text>
<text x="497.5" y="916">FDOC_NBR</text><text x="608.5" y="916">varchar[14]</text>
<text x="497.5" y="938">GRP_ID</text><text x="608.5" y="938">varchar[40]</text>
<text x="497.5" y="961">OBJ_ID</text><text x="608.5" y="961">varchar[36]</text>
<text x="497.5" y="984">VER_NBR</text><text x="608.5" y="984">decimal[8]</text>
<text x="497.5" y="1006">KIM_TYP_ID</text><text x="608.5" y="1006">varchar[40]</text>
<text x="497.5" y="1029">GRP_NMSPC</text><text x="608.5" y="1029">varchar[100]</text>
<text x="497.5" y="1052">GRP_NM</text><text x="608.5" y="1052">varchar[400]</text>
<text x="497.5" y="1075">GRP_DESC</text><text x="608.5" y="1075">varchar[400]</text>
<text x="497.5" y="1097">ACTV_IND</text><text x="608.5" y="1097">varchar[1]</text>
<text x="497.5" y="1120">&lt; 3</text><text class="r" x="600.5" y="1120">0 rows</text><text class="r" x="695.5" y="1120">0 &gt;</text>
</g>
<text x="17" y="3722">Generated by SchemaSpy</text>
</svg>
